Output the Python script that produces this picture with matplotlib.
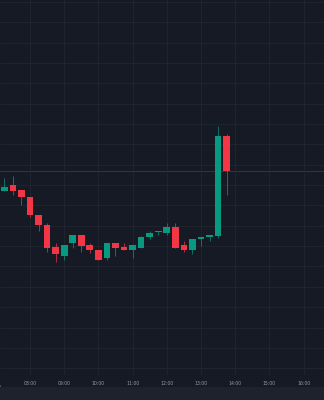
import numpy as np
import matplotlib
matplotlib.use('Agg')
import matplotlib.pyplot as plt
from matplotlib.patches import Rectangle

# 15 minute candles, first one at 07:15
times = np.arange(27) * 0.25 + 7.25
opens = [209.3, 215.3, 210.0, 203.0, 185.0, 174.7, 152.7, 144.3, 156.7, 164.7,
         154.7, 150.3, 142.3, 156.7, 152.7, 150.3, 152.3, 162.7, 168.0, 166.7,
         173.0, 154.7, 150.3, 160.7, 162.7, 164.0, 264.3]
highs = [222.0, 224.0, 210.0, 203.0, 185.0, 177.0, 157.0, 154.7, 164.7, 164.7,
         157.3, 150.3, 156.7, 156.7, 157.3, 154.7, 164.3, 169.0, 169.0, 177.0,
         177.0, 158.7, 160.7, 162.7, 164.7, 274.3, 266.0]
lows = [209.3, 205.0, 195.0, 183.3, 169.3, 148.3, 138.3, 140.0, 152.0, 148.3,
        146.7, 140.0, 140.0, 144.3, 150.3, 142.3, 152.3, 160.7, 164.7, 164.7,
        152.3, 148.3, 146.0, 154.3, 158.7, 162.3, 205.3]
closes = [213.3, 209.3, 203.0, 185.0, 174.7, 152.3, 146.3, 154.7, 164.7, 154.3,
          150.3, 140.0, 156.7, 152.3, 150.3, 154.7, 162.7, 167.0, 169.0, 173.0,
          152.3, 150.3, 160.7, 162.7, 164.7, 264.3, 229.3]
hour_ticks = np.arange(8, 17)
hour_labels = ['%02d:00' % h for h in hour_ticks]

bg = '#161a25'
up = '#089981'
down = '#f23645'

fig = plt.figure(figsize=(3.24, 4.0), dpi=100, facecolor=bg)
ax = fig.add_axes([0, 25 / 400, 1, 375 / 400])
ax.set_facecolor(bg)

w = 0.196
for t, o, h, l, c in zip(times, opens, highs, lows, closes):
    col = up if c >= o else down
    ax.vlines(t, l, h, color=col, linewidth=0.6, alpha=0.8, zorder=2)
    ax.add_patch(Rectangle((t - w / 2, min(o, c)), w, max(abs(c - o), 0.8),
                           facecolor=col, edgecolor='none', zorder=3))

# last price line
ax.axhline(closes[-1], color='#6e2233', linewidth=0.6, zorder=1)

ax.set_xlim(7.123, 16.597)
ax.set_ylim(25, 400)
ax.set_xticks(hour_ticks)
ax.set_xticklabels(hour_labels)
ax.set_yticks(np.arange(31.8, 400, 20.35))
ax.grid(True, color='#232733', linewidth=0.5)
ax.tick_params(axis='x', length=0, pad=4, labelsize=3.3, labelcolor='#9598a1')
ax.tick_params(axis='y', length=0, labelleft=False)
for s in ax.spines.values():
    s.set_visible(False)
ax.text(7.0, -0.034, '07:00', transform=ax.get_xaxis_transform(),
        ha='center', va='center', fontsize=3.3, color='#9598a1', clip_on=False)

# bottom bar
fig.patches.append(Rectangle((0, 0), 1, 13 / 400, transform=fig.transFigure,
                             facecolor='#1e222d', edgecolor='none'))

plt.savefig('out.png', dpi=100, facecolor=bg)
